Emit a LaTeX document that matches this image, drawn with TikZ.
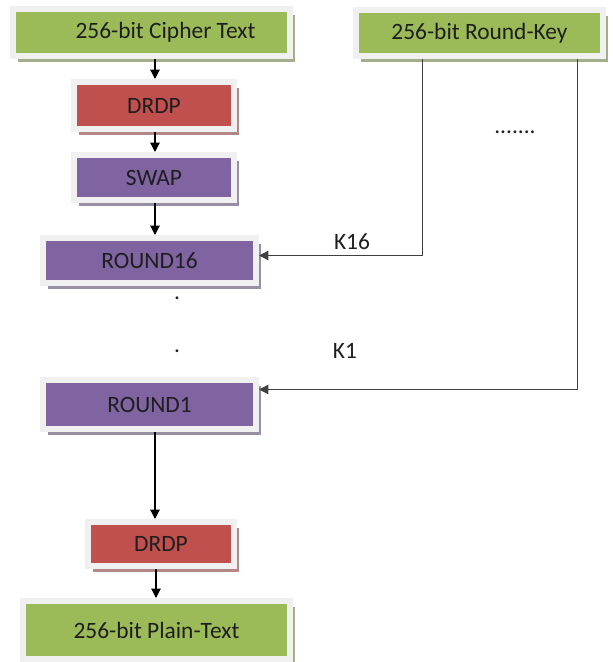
\documentclass[tikz,border=0pt]{standalone}
\usepackage{fontspec}
\setmainfont{Carlito}
\usetikzlibrary{arrows.meta,shadows}
\definecolor{boxgreen}{HTML}{9BBB59}
\definecolor{boxred}{HTML}{C0504D}
\definecolor{boxpurple}{HTML}{8064A2}
\definecolor{framegray}{HTML}{F0F0F0}
\definecolor{txtdark}{HTML}{1E1E1E}
\definecolor{keyline}{HTML}{404040}
\begin{document}
\begin{tikzpicture}[x=0.03cm,y=-0.03cm,
  box/.style={fill=#1, draw=framegray, line width=0.18cm, inner sep=0pt,
    text=txtdark, font=\fontsize{20}{24}\selectfont,
    drop shadow={shadow xshift=4pt, shadow yshift=-5pt, fill=#1!45!gray, opacity=.8}},
  arr/.style={line width=1.1pt, -{Triangle[width=8pt,length=8pt]}},
  lbl/.style={text=txtdark, font=\fontsize{20}{24}\selectfont}]
\useasboundingbox (0,0) rectangle (613,662);
% left column
\node[box=boxgreen, minimum width=8.31cm, minimum height=1.41cm] (cipher) at (151.5,32.5) {\hspace*{0.84cm}256-bit Cipher Text};
\node[box=boxred, minimum width=4.8cm, minimum height=1.41cm] (drdpa) at (154,105.5) {DRDP};
\node[box=boxpurple, minimum width=4.8cm, minimum height=1.35cm] (swap) at (154,177.5) {SWAP};
\node[box=boxpurple, minimum width=6.39cm, minimum height=1.35cm] (round16) at (149.5,260.5) {ROUND16};
\node[box=boxpurple, minimum width=6.39cm, minimum height=1.47cm] (round1) at (149.5,404.5) {ROUND1};
\node[box=boxred, minimum width=4.38cm, minimum height=1.32cm] (drdpb) at (161,544) {DRDP};
\node[box=boxgreen, minimum width=8.01cm, minimum height=1.74cm] (plain) at (156.5,630) {256-bit Plain-Text};
% key
\node[box=boxgreen, minimum width=7.41cm, minimum height=1.38cm] (key) at (479.5,33) {256-bit Round-Key};
% dots and labels
\node[lbl] (dota) at (177,298) {.};
\node[lbl] (dotb) at (177,351) {.};
\node[lbl] (more) at (515,132) {.......};
\node[lbl] (k16) at (352,242) {K16};
\node[lbl] (k1) at (345,351) {K1};
% arrows
\draw[arr] (cipher.south -| 155,0) -- (drdpa.north -| 155,0);
\draw[arr] (drdpa.south -| 155,0) -- (swap.north -| 155,0);
\draw[arr] (swap.south -| 155,0) -- (round16.north -| 155,0);
\draw[arr] (round1.south -| 155,0) -- (drdpb.north -| 155,0);
\draw[arr] (drdpb.south -| 156,0) -- (plain.north -| 156,0);
\draw[arr, draw=keyline] ([xshift=-1.7cm]key.south) |- ([yshift=0.15cm]round16.east);
\draw[arr, draw=keyline] ([xshift=2.93cm]key.south) |- ([yshift=0.45cm]round1.east);
\end{tikzpicture}
\end{document}
